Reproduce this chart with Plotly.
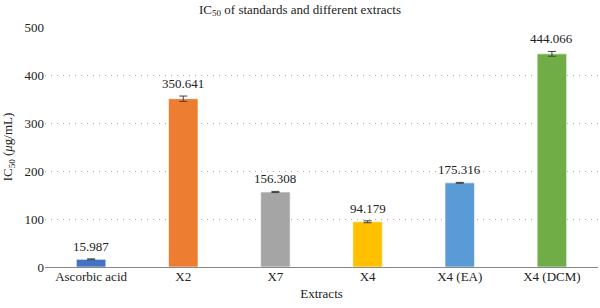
import plotly.graph_objects as go

categories = ["Ascorbic acid", "X2", "X7", "X4", "X4 (EA)", "X4 (DCM)"]
values = [15.987, 350.641, 156.308, 94.179, 175.316, 444.066]
errors = [1.0, 5.5, 1.2, 2.0, 1.0, 5.0]
labels = ["15.987", "350.641", "156.308", "94.179", "175.316", "444.066"]
colors = ["#4472C4", "#ED7D31", "#A5A5A5", "#FFC000", "#5B9BD5", "#70AD47"]

FONT = "Liberation Serif"

fig = go.Figure()
fig.add_trace(go.Bar(
    x=categories, y=values,
    marker=dict(color=colors, line=dict(color="rgba(255,255,255,0.6)", width=1)),
    error_y=dict(type="data", array=errors, visible=True, color="#404040", thickness=1, width=4),
    width=0.32,
    hoverinfo="skip",
))

for c, v, e, t in zip(categories, values, errors, labels):
    fig.add_annotation(x=c, y=v + e, text=t, showarrow=False, yanchor="bottom", yshift=3,
                       font=dict(family=FONT, size=13, color="#222"))

fig.update_layout(
    width=600, height=308,
    margin=dict(l=45, r=2, t=27, b=41),
    paper_bgcolor="white", plot_bgcolor="white",
    font=dict(family=FONT, size=13, color="#222"),
    title=dict(text="IC<sub>50</sub> of standards and different extracts", x=0.5, xanchor="center",
               y=0.985, yanchor="top", font=dict(family=FONT, size=13, color="#222")),
    showlegend=False,
    bargap=0.68,
)
fig.update_yaxes(range=[0, 500], dtick=100, showgrid=True, gridcolor="#aaa", griddash="1px,5px", gridwidth=1,
                 zeroline=True, zerolinecolor="#888", zerolinewidth=1, showline=False,
                 ticks="", tickfont=dict(family=FONT, size=13, color="#222"),
                 title=dict(text="IC<sub>50</sub> (<i>μ</i>g/mL)", standoff=8,
                            font=dict(family=FONT, size=13, color="#222")))
fig.update_xaxes(showline=False, ticks="", tickfont=dict(family=FONT, size=13, color="#222"),
                 title=dict(text="Extracts", standoff=5, font=dict(family=FONT, size=13, color="#222")))

fig.write_html("out.html")
